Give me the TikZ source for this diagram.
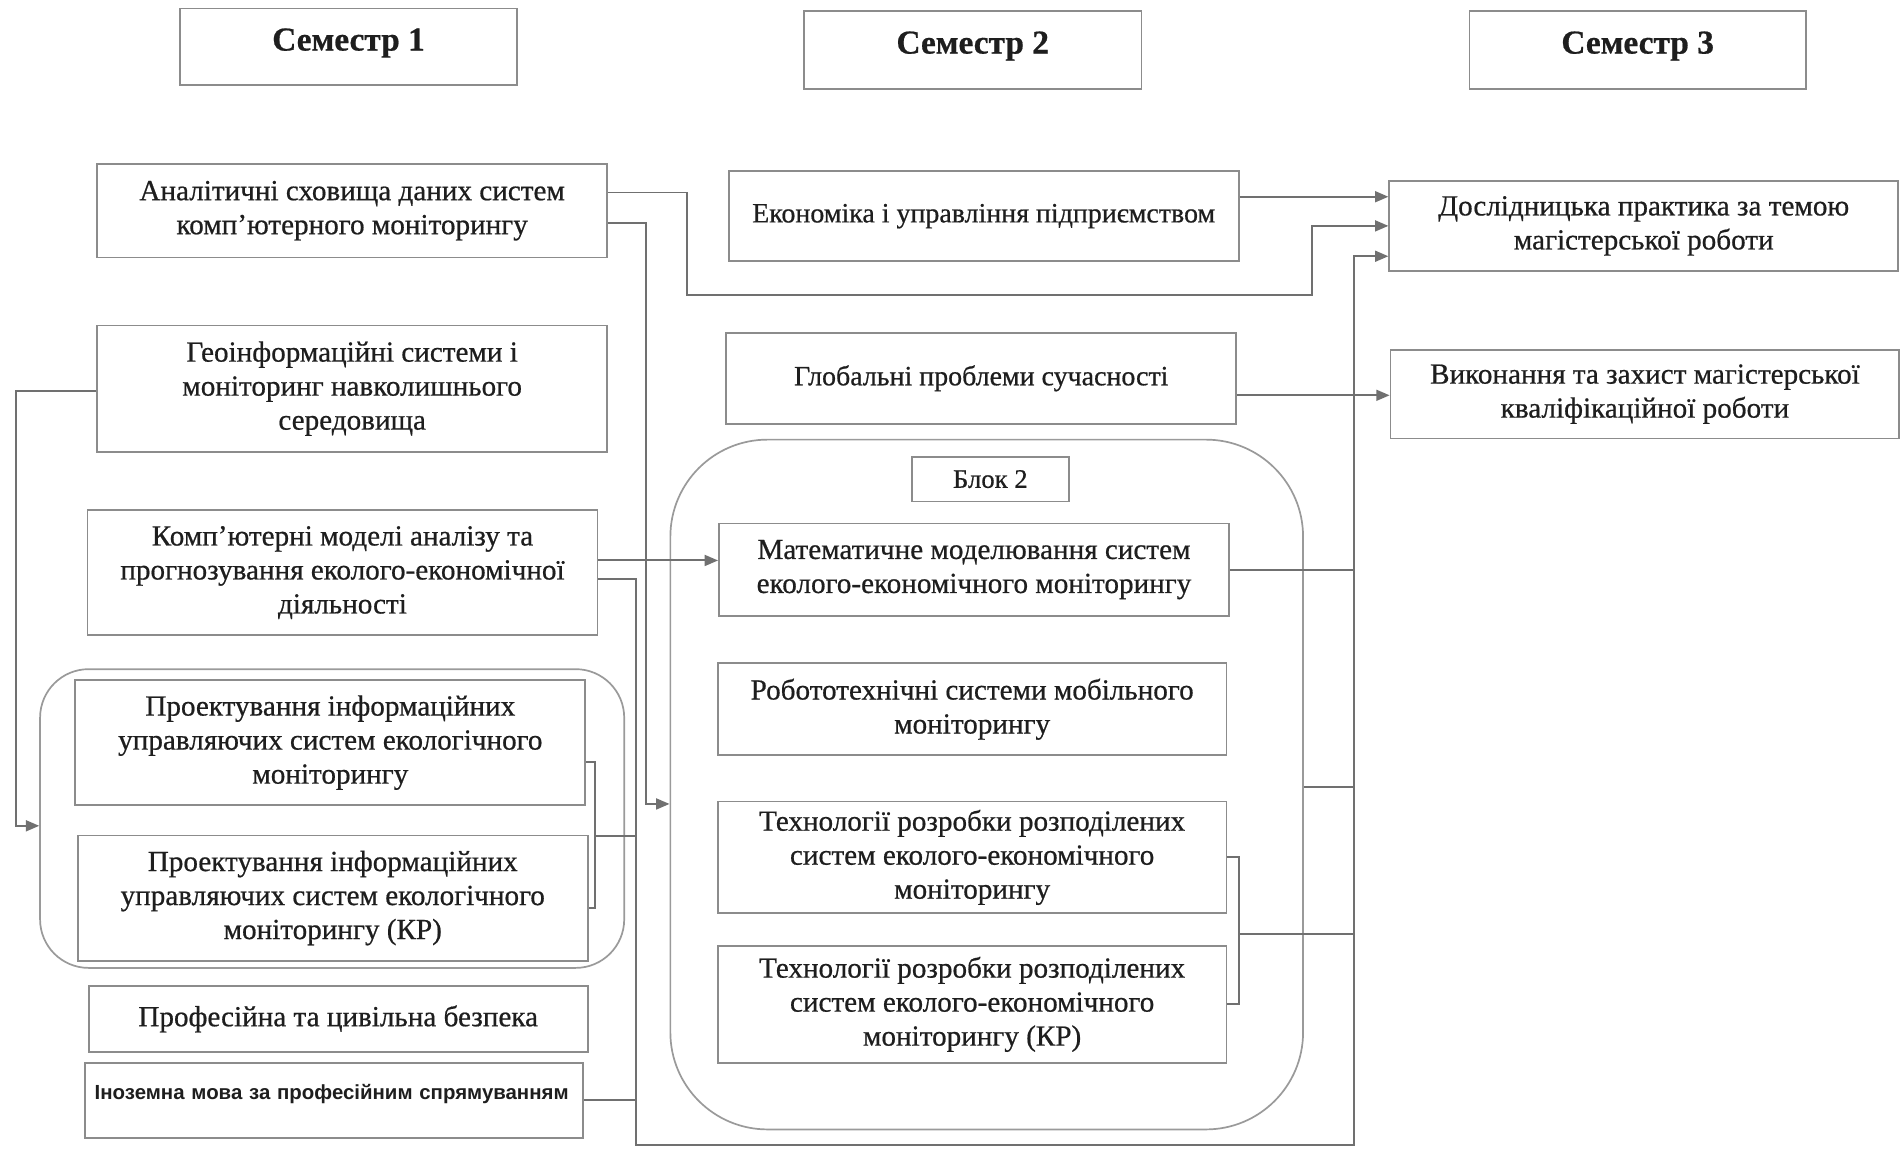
\documentclass[tikz,border=0pt]{standalone}
\usepackage{fontspec}
\setmainfont{Liberation Serif}[FakeBold=0.6]
\newfontfamily\inozfont{Liberation Sans}
\usetikzlibrary{arrows.meta}

\definecolor{bx}{HTML}{8C8C8C}
\definecolor{gr}{HTML}{9A9A9A}
\definecolor{ln}{HTML}{707070}
\definecolor{txt}{HTML}{1E1E1E}

\begin{document}
\begin{tikzpicture}
    [x=1pt, y=-1pt,
    box/.style={rectangle, draw=bx, line width=1.5pt, align=center, inner sep=0pt, text=txt, font=\fontsize{24}{28}\selectfont},
    sz/.style 2 args={minimum width=#1pt, minimum height=#2pt},
    head/.style={box, text depth=12pt, font=\fontsize{27.5}{30}\selectfont\bfseries},
    grp/.style={rectangle, draw=gr, line width=1.4pt, rounded corners=#1},
    conn/.style={draw=ln, line width=1.6pt},
    connarrow/.style={conn, -{Triangle[length=11pt, width=9pt]}}]

    \path[use as bounding box, fill=white] (0,0) rectangle (1567,946);

    % semesters
    \node[head, sz={278}{63}] (sem1) at (287,38.5) {Семестр 1};
    \node[head, sz={278}{64}] (sem2) at (801,41) {Семестр 2};
    \node[head, sz={277}{64}] (sem3) at (1348.5,41) {Семестр 3};

    % groups
    \node[grp=40pt, sz={481}{246}] (grp1) at (273.5,674) {};
    \node[grp=80pt, sz={521}{568}] (grp2) at (812.5,646) {};

    % semester 1
    \node[box, sz={420}{77}] (an) at (290,173.5) {Аналітичні сховища даних систем\\комп'ютерного моніторингу};
    \node[box, sz={420}{104}] (geo) at (290,320) {Геоінформаційні системи і\\моніторинг навколишнього\\середовища};
    \node[box, sz={420}{103}] (comp) at (282,471.5) {Комп'ютерні моделі аналізу та\\прогнозування еколого-економічної\\діяльності};
    \node[box, sz={420}{103}] (proj1) at (272,611.5) {Проектування інформаційних\\управляючих систем екологічного\\моніторингу};
    \node[box, sz={420}{103}] (proj2) at (274,739.5) {Проектування інформаційних\\управляючих систем екологічного\\моніторингу (КР)};
    \node[box, sz={411}{54}] (bezp) at (278.5,839) {Професійна та цивільна безпека};
    \node[box, sz={410}{62}, align=left, text width=394pt, text depth=14pt, font=\inozfont\bfseries\fontsize{16.8}{18}\selectfont] (inoz) at (275,906) {Іноземна мова за професійним спрямуванням};

    % semester 2
    \node[box, sz={420}{74}, font=\fontsize{23}{28}\selectfont] (econ) at (810,178) {Економіка і управління підприємством};
    \node[box, sz={420}{75}, font=\fontsize{23}{28}\selectfont] (glob) at (808,311.5) {Глобальні проблеми сучасності};
    \node[box, sz={129}{37}, font=\fontsize{22}{24}\selectfont] (blok) at (815.5,394.5) {Блок 2};
    \node[box, sz={420}{76}] (math) at (802,469) {Математичне моделювання систем\\еколого-економічного моніторингу};
    \node[box, sz={419}{76}] (robo) at (800.5,584) {Робототехнічні системи мобільного\\моніторингу};
    \node[box, sz={419}{92}] (tech1) at (800.5,706) {Технології розробки розподілених\\систем еколого-економічного\\моніторингу};
    \node[box, sz={419}{96}] (tech2) at (800.5,827) {Технології розробки розподілених\\систем еколого-економічного\\моніторингу (КР)};

    % semester 3
    \node[box, sz={419}{74}] (dosl) at (1353.5,186) {Дослідницька практика за темою\\магістерської роботи};
    \node[box, sz={419}{73}] (vyk) at (1354.5,324.5) {Виконання та захист магістерської\\кваліфікаційної роботи};

    \coordinate (lt) at (524,943);
    \coordinate (rt) at (1115,943);
    \coordinate (pb) at (490,688);
    \coordinate (tb) at (1020,769);

    % connectors
    \draw[connarrow] ([yshift=16pt]econ.east) -- ([yshift=24pt]dosl.west);
    \draw[connarrow] ([yshift=15pt]an.east) -- ++(65,0) |- (1080,243) |- (dosl.west);
    \draw[connarrow] ([yshift=-14pt]glob.east) -- ([yshift=-14pt]glob.east -| vyk.west);
    \draw[connarrow] ([yshift=10pt]comp.east) -- ([yshift=10pt]comp.east -| math.west);
    \draw[connarrow] ([yshift=-10pt]an.east) -- ++(31,0) |- ([yshift=-16pt]grp2.west);
    \draw[connarrow] ([yshift=-2pt]geo.west) -- ++(-66,0) |- ([yshift=-6pt]grp1.west);
    \draw[connarrow] ([yshift=-5pt]comp.east) -| (lt) -- (rt) |- ([yshift=-25pt]dosl.west);
    \draw[conn] ([yshift=-16pt]proj1.east) -| (pb) |- ([yshift=-8pt]proj2.east);
    \draw[conn] (pb) -- (pb -| lt);
    \draw[conn] (inoz.east) -- (inoz.east -| lt);
    \draw[conn] (math.east) -- (math.east -| rt);
    \draw[conn] ([yshift=-2pt]grp2.east) -- ([yshift=-2pt]grp2.east -| rt);
    \draw[conn] (tech1.east) -| (tb) |- (tech2.east);
    \draw[conn] (tb) -- (tb -| rt);

\end{tikzpicture}
\end{document}
